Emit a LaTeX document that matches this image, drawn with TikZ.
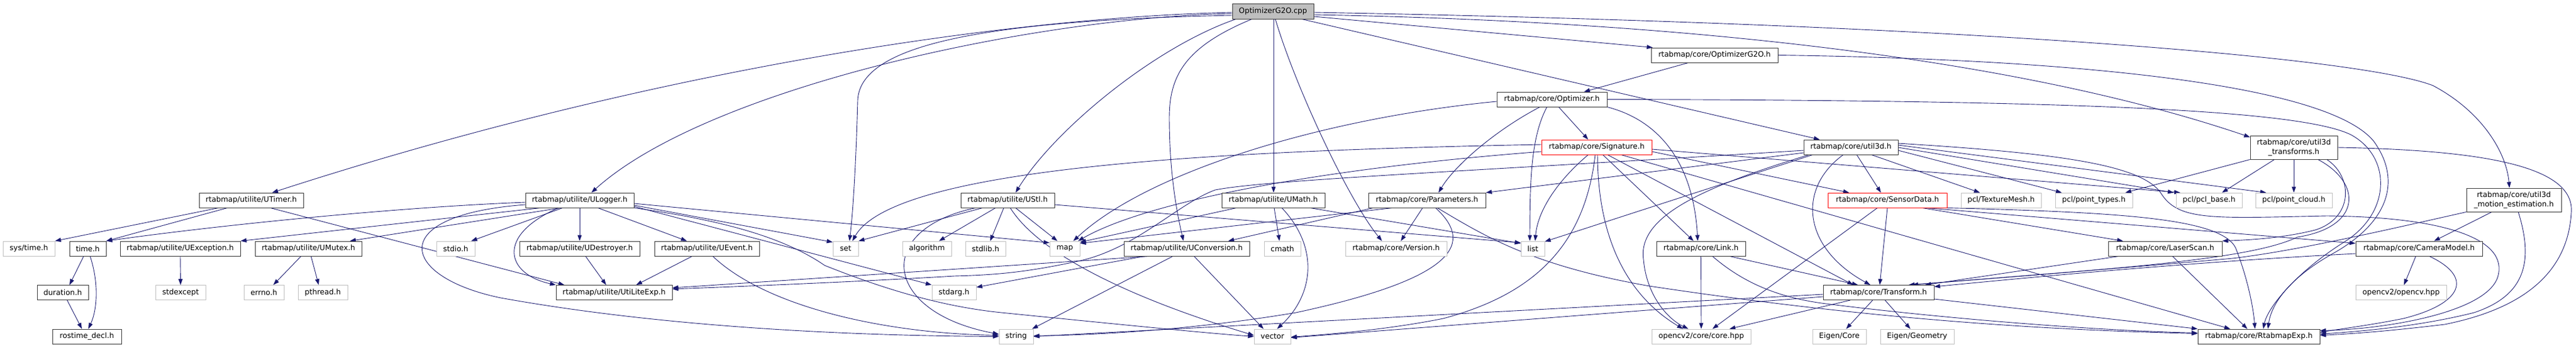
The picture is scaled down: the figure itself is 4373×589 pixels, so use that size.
\documentclass[tikz,border=0pt]{standalone}
\usepackage{fontspec}
\newfontfamily\dv{DejaVu Sans}
\usetikzlibrary{arrows.meta}
\definecolor{edgec}{HTML}{191970}
\definecolor{gryb}{HTML}{BFBFBF}
\pgfdeclarelayer{bg}
\pgfsetlayers{bg,main}
\begin{document}
\begin{tikzpicture}[x=1pt,y=-1pt,
  every node/.style={font=\dv\fontsize{12.6}{16}\selectfont, inner sep=0pt, minimum height=25pt, line width=0.9pt, fill=white, text=black},
  doc/.style={draw=black!80},
  ext/.style={draw=gryb},
  trunc/.style={draw=red},
  two/.style={minimum height=40pt, align=center},
  e/.style={draw=edgec, line width=0.9pt, -{Triangle[length=10pt,width=7pt]}}]
\useasboundingbox (0,0) rectangle (4373,589);
% ---------- nodes ----------
\node[doc,fill=gryb,minimum width=138pt,minimum height=26pt] (root) at (2161,19) {OptimizerG2O.cpp};
\node[doc,minimum width=215pt] (og2oh) at (2910.5,93.5) {rtabmap/core/OptimizerG2O.h};
\node[doc,minimum width=187pt] (opt) at (2634.5,168.5) {rtabmap/core/Optimizer.h};
\node[trunc,minimum width=187pt] (sig) at (2710.5,249.5) {rtabmap/core/Signature.h};
\node[doc,minimum width=160pt] (u3d) at (3142,249.5) {rtabmap/core/util3d.h};
\node[doc,two,minimum width=148pt] (u3dt) at (3894,250) {rtabmap/core/util3d\\\_transforms.h};
% row 4
\node[doc,minimum width=177pt] (utimer) at (426.5,339.5) {rtabmap/utilite/UTimer.h};
\node[doc,minimum width=184pt] (ulog) at (984,339.5) {rtabmap/utilite/ULogger.h};
\node[doc,minimum width=159pt] (ustl) at (1710.5,339.5) {rtabmap/utilite/UStl.h};
\node[doc,minimum width=175pt] (umath) at (2161.5,339.5) {rtabmap/utilite/UMath.h};
\node[doc,minimum width=199pt] (param) at (2422.5,339.5) {rtabmap/core/Parameters.h};
\node[trunc,minimum width=202pt] (sdata) at (3204,339.5) {rtabmap/core/SensorData.h};
\node[ext,minimum width=136pt] (ptex) at (3397,339.5) {pcl/TextureMesh.h};
\node[ext,minimum width=131pt] (ptypes) at (3554.5,339.5) {pcl/point\_types.h};
\node[ext,minimum width=112pt] (pbase) at (3750,339.5) {pcl/pcl\_base.h};
\node[ext,minimum width=130pt] (pcloud) at (3894,339.5) {pcl/point\_cloud.h};
\node[doc,two,minimum width=161pt] (umot) at (4267.5,339) {rtabmap/core/util3d\\\_motion\_estimation.h};
% row 5
\node[ext,minimum width=88pt] (systime) at (49,421.5) {sys/time.h};
\node[doc,minimum width=62pt] (timeh) at (149,421.5) {time.h};
\node[doc,minimum width=204pt] (uexc) at (306,421.5) {rtabmap/utilite/UException.h};
\node[doc,minimum width=181pt] (umutex) at (523.5,421.5) {rtabmap/utilite/UMutex.h};
\node[ext,minimum width=65pt] (stdio) at (773.5,421.5) {stdio.h};
\node[doc,minimum width=204pt] (udest) at (984,421.5) {rtabmap/utilite/UDestroyer.h};
\node[doc,minimum width=178pt] (uevent) at (1200,421.5) {rtabmap/utilite/UEvent.h};
\node[ext,minimum width=43pt] (set) at (1435.5,421.5) {set};
\node[ext,minimum width=83pt] (algo) at (1573.5,421.5) {algorithm};
\node[ext,minimum width=68pt] (stdlib) at (1673,421.5) {stdlib.h};
\node[ext,minimum width=51pt] (map) at (1807.5,421.5) {map};
\node[doc,minimum width=213pt] (uconv) at (2014.5,421.5) {rtabmap/utilite/UConversion.h};
\node[ext,minimum width=62pt] (cmath) at (2177,421.5) {cmath};
\node[ext,minimum width=172pt] (version) at (2370,421.5) {rtabmap/core/Version.h};
\node[ext,minimum width=40pt] (list) at (2602,421.5) {list};
\node[doc,minimum width=151pt] (link) at (2887.5,421.5) {rtabmap/core/Link.h};
\node[doc,minimum width=193pt] (lscan) at (3675.5,421.5) {rtabmap/core/LaserScan.h};
\node[doc,minimum width=215pt] (cam) at (4106.5,421.5) {rtabmap/core/CameraModel.h};
% row 6
\node[doc,minimum width=87pt] (duration) at (106.5,496) {duration.h};
\node[ext,minimum width=85pt] (stdexcept) at (306.5,496) {stdexcept};
\node[ext,minimum width=68pt] (errno) at (448,496) {errno.h};
\node[ext,minimum width=84pt] (pthread) at (548,496) {pthread.h};
\node[doc,minimum width=197pt] (utilexp) at (1042.5,496) {rtabmap/utilite/UtiLiteExp.h};
\node[ext,minimum width=75pt] (stdarg) at (1619.5,496) {stdarg.h};
\node[doc,minimum width=188pt] (transform) at (3189,496) {rtabmap/core/Transform.h};
\node[ext,minimum width=154pt] (opencvhpp) at (4076,496) {opencv2/opencv.hpp};
% row 7
\node[doc,minimum width=117pt] (rostime) at (147.5,570.5) {rostime\_decl.h};
\node[ext,minimum width=58pt] (string) at (1725,570.5) {string};
\node[ext,minimum width=62pt] (vector) at (2160,570.5) {vector};
\node[ext,minimum width=168pt] (cvcore) at (2888,570.5) {opencv2/core/core.hpp};
\node[ext,minimum width=91pt] (eigcore) at (3122.5,570.5) {Eigen/Core};
\node[ext,minimum width=125pt] (eigeo) at (3254.5,570.5) {Eigen/Geometry};
\node[doc,minimum width=207pt] (rexp) at (3834.5,570.5) {rtabmap/core/RtabmapExp.h};
% ---------- edges ----------
\begin{pgfonlayer}{bg}
% root
\draw[e] (root.west |- 0,21) .. controls (1700,30) and (1100,120) .. (utimer.north -| 462,0);
\draw[e] (root.west |- 0,23) .. controls (1750,30) and (1200,150) .. (ulog.north -| 1004,0);
\draw[e] (root.west |- 0,26) .. controls (1650,35) and (1460,80) .. (1456,170) .. controls (1453,280) and (1448,360) .. (set.north -| 1442,0);
\draw[e] (root.south -| 2098,0) .. controls (1960,80) and (1790,220) .. (ustl.north -| 1724,0);
\draw[e] (root.south -| 2125,0) .. controls (2010,80) and (1985,130) .. (1985,200) .. controls (1985,300) and (2000,370) .. (uconv.north -| 2009,0);
\draw[e] (root.south -| 2162,0) -- (umath.north -| 2162,0);
\draw[e] (root.south -| 2165,0) .. controls (2200,150) and (2290,340) .. (version.north -| 2346,0);
\draw[e] (root.east |- 0,28) -- ([xshift=3pt]og2oh.north west);
\draw[e] (root.south -| 2210,0) -- (u3d.north -| 3089,0);
\draw[e] (root.east |- 0,25) .. controls (2800,35) and (3400,90) .. ([yshift=-3pt]u3dt.north west);
\draw[e] (root.east |- 0,21) .. controls (3300,40) and (4000,95) .. (4130,145) .. controls (4215,190) and (4255,260) .. (umot.north -| 4260,0);
% UTimer
\draw[e] (utimer.south -| 371,0) -- (systime.north east);
\draw[e] (utimer.south -| 386,0) -- (timeh.north east);
\draw[e] (utimer.south -| 459,0) -- (utilexp.north -| 958,0);
% ULogger
\draw[e] (ulog.west |- 0,343) .. controls (700,350) and (400,378) .. (timeh.north east);
\draw[e] (ulog.south -| 918,0) -- (uexc.north east);
\draw[e] (ulog.south -| 952,0) -- (umutex.north -| 594,0);
\draw[e] (ulog.south -| 955,0) -- (stdio.north -| 800,0);
\draw[e] (ulog.south) -- (udest.north);
\draw[e] (ulog.south -| 948,0) .. controls (840,400) and (860,465) .. (utilexp.north west);
\draw[e] (ulog.west |- 0,347) .. controls (650,365) and (680,470) .. (850,505) .. controls (1100,550) and (1400,569) .. (string.west);
\draw[e] (ulog.south -| 1015,0) -- (uevent.north -| 1166,0);
\draw[e] (ulog.east |- 0,348) -- ([yshift=-2pt]set.north west);
\draw[e] (ulog.east |- 0,350) -- (stdarg.north west);
\draw[e] (ulog.east |- 0,345) -- ([yshift=-3pt]map.north west);
\draw[e] (ulog.south east) .. controls (1200,370) and (1320,395) .. (1400,450) .. controls (1500,490) and (1600,520) .. (1700,530) .. controls (1900,550) and (2050,565) .. (vector.west);
% UEvent, UDestroyer, UMutex, UException, time, duration
\draw[e] (uevent.south -| 1175,0) -- (utilexp.north -| 1080,0);
\draw[e] (uevent.south -| 1210,0) .. controls (1300,520) and (1500,565) .. ([yshift=2pt]string.west);
\draw[e] (udest.south -| 994,0) -- (utilexp.north -| 1029,0);
\draw[e] (umutex.south -| 511,0) -- (errno.north -| 464,0);
\draw[e] (umutex.south -| 528,0) -- (pthread.north -| 541,0);
\draw[e] (uexc.south) -- (stdexcept.north);
\draw[e] (timeh.south -| 142,0) -- (duration.north -| 118,0);
\draw[e] (timeh.south -| 153,0) .. controls (168,480) and (165,525) .. (rostime.north -| 150,0);
\draw[e] (duration.south -| 114,0) -- (rostime.north -| 139,0);
% UStl
\draw[e] (ustl.south -| 1668,0) -- (set.north east);
\draw[e] (ustl.south -| 1690,0) -- (algo.north -| 1594,0);
\draw[e] (ustl.south -| 1704,0) -- (stdlib.north -| 1681,0);
\draw[e] (ustl.south -| 1724,0) -- (map.north -| 1795,0);
\draw[e] (ustl.south -| 1715,0) .. controls (1770,440) and (1950,515) .. ([yshift=2pt]vector.west);
\draw[e] (ustl.south -| 1656,0) .. controls (1480,390) and (1500,530) .. ([yshift=4pt]string.west);
\draw[e] (ustl.east |- 0,347) -- ([yshift=-3pt]list.north west);
% UMath
\draw[e] (umath.south -| 2099,0) -- ([yshift=-2pt]map.north east);
\draw[e] (umath.south -| 2163,0) -- (cmath.north -| 2172,0);
\draw[e] (umath.south -| 2224,0) -- ([yshift=-4pt]list.north west);
\draw[e] (umath.south -| 2176,0) .. controls (2240,420) and (2230,500) .. (vector.north -| 2168,0);
% UConversion
\draw[e] (uconv.south -| 1952,0) -- ([yshift=8pt]utilexp.east);
\draw[e] (uconv.south -| 1991,0) -- (string.north -| 1752,0);
\draw[e] (uconv.south -| 2027,0) -- (vector.north -| 2145,0);
\draw[e] (uconv.south -| 1942,0) -- ([yshift=9pt]stdarg.east);
% Parameters
\draw[e] (param.south -| 2331,0) -- (uconv.north -| 2085,0);
\draw[e] (param.south -| 2364,0) -- ([yshift=-4pt]map.north east);
\draw[e] (param.south -| 2415,0) -- (version.north -| 2378,0);
\draw[e] (param.south -| 2437,0) .. controls (2500,410) and (2480,470) .. (2200,530) .. controls (2050,555) and (1900,567) .. ([yshift=1pt]string.east);
\draw[e] (param.south -| 2440,0) .. controls (2520,400) and (2600,450) .. (2800,485) .. controls (3200,545) and (3500,560) .. ([yshift=5pt]rexp.west);
% Optimizer
\draw[e] (opt.west |- 0,172) .. controls (2250,200) and (1950,290) .. (map.north -| 1822,0);
\draw[e] (opt.south -| 2626,0) .. controls (2600,230) and (2597,300) .. (list.north -| 2597,0);
\draw[e] (opt.south -| 2646,0) -- (sig.north -| 2696,0);
\draw[e] (opt.south -| 2614,0) .. controls (2540,220) and (2470,280) .. (param.north -| 2442,0);
\draw[e] (opt.south east) .. controls (2820,205) and (2875,280) .. (link.north -| 2882,0);
\draw[e] (opt.east) .. controls (3500,170) and (3900,185) .. (3990,228) .. controls (4060,265) and (4060,360) .. (3980,410) .. controls (3900,460) and (3850,520) .. (rexp.north -| 3842,0);
% OptimizerG2O.h
\draw[e] (og2oh.south -| 2866,0) -- (opt.north -| 2689,0);
\draw[e] (og2oh.east) .. controls (3500,100) and (3950,140) .. (4030,240) .. controls (4080,310) and (4050,380) .. (3960,430) .. controls (3880,475) and (3855,520) .. (rexp.north -| 3850,0);
% Signature
\draw[e] (sig.west |- 0,245) .. controls (2100,255) and (1520,280) .. (set.north -| 1447,0);
\draw[e] (sig.west |- 0,257) .. controls (2250,285) and (1950,340) .. (map.north -| 1830,0);
\draw[e] (sig.south -| 2696,0) .. controls (2640,310) and (2610,360) .. (list.north -| 2606,0);
\draw[e] (sig.south -| 2708,0) .. controls (2690,420) and (2600,500) .. (2450,540) .. controls (2350,560) and (2250,567) .. ([yshift=-1pt]vector.east);
\draw[e] (sig.south -| 2712,0) .. controls (2712,400) and (2760,500) .. (cvcore.north -| 2857,0);
\draw[e] (sig.south -| 2721,0) -- (link.north -| 2875,0);
\draw[e] (sig.south -| 2729,0) -- (transform.north -| 3146,0);
\draw[e] (sig.south -| 2752,0) -- (rexp.north -| 3786,0);
\draw[e] (sig.east |- 0,257) -- (sdata.north -| 3139,0);
\draw[e] (sig.east |- 0,253) -- (pbase.north -| 3701,0);
% util3d
\draw[e] (u3d.west |- 0,255) .. controls (2500,290) and (2150,305) .. (2063,322) .. controls (2000,345) and (1930,420) .. (1834,442) .. controls (1750,460) and (1700,466) .. (1620,468) .. controls (1450,478) and (1250,486) .. ([yshift=6pt]utilexp.east);
\draw[e] (u3d.west |- 0,259) -- (param.north east);
\draw[e] (u3d.south -| 3077,0) -- ([yshift=-1pt]list.north east);
\draw[e] (u3d.south -| 3071,0) .. controls (2880,320) and (2780,370) .. (2790,440) .. controls (2795,500) and (2830,540) .. (cvcore.north -| 2866,0);
\draw[e] (u3d.south -| 3129,0) .. controls (3050,320) and (3060,420) .. (transform.north -| 3175,0);
\draw[e] (u3d.south -| 3152,0) -- (sdata.north -| 3193,0);
\draw[e] (u3d.south -| 3177,0) -- (ptex.north -| 3361,0);
\draw[e] (u3d.east |- 0,255) -- (ptypes.north -| 3500,0);
\draw[e] (u3d.east |- 0,250) -- (pbase.north -| 3690,0);
\draw[e] (u3d.east |- 0,246) -- (pcloud.north -| 3847,0);
\draw[e] (u3d.east |- 0,243) .. controls (3500,260) and (3640,280) .. (3670,330) .. controls (3700,375) and (3760,370) .. (3950,366) .. controls (4150,368) and (4260,405) .. (4240,470) .. controls (4220,530) and (4050,558) .. ([yshift=10pt]rexp.east);
% SensorData
\draw[e] (sdata.south -| 3204,0) -- (transform.north -| 3191,0);
\draw[e] (sdata.south -| 3187,0) -- (cvcore.north -| 2907,0);
\draw[e] (sdata.south -| 3263,0) -- (lscan.north -| 3604,0);
\draw[e] (sdata.south -| 3270,0) -- ([yshift=-4pt]cam.north west);
\draw[e] (sdata.south east) .. controls (3600,360) and (3770,370) .. (3795,420) .. controls (3815,470) and (3825,520) .. (rexp.north -| 3828,0);
% LaserScan
\draw[e] (lscan.south -| 3597,0) -- (transform.north -| 3268,0);
\draw[e] (lscan.south -| 3688,0) -- (rexp.north -| 3815,0);
% CameraModel
\draw[e] (cam.south -| 4101,0) -- (opencvhpp.north -| 4081,0);
\draw[e] (cam.south -| 4124,0) .. controls (4200,470) and (4180,515) .. (4080,540) .. controls (4020,552) and (3970,558) .. ([yshift=7pt]rexp.east);
\draw[e] (cam.west |- 0,430) .. controls (3700,445) and (3400,475) .. ([yshift=10pt]transform.east);
% motion estimation
\draw[e] (umot.south -| 4230,0) -- (cam.north -| 4132,0);
\draw[e] (umot.south west) .. controls (4050,390) and (3900,425) .. (3790,438) .. controls (3600,455) and (3400,470) .. (transform.north -| 3246,0);
\draw[e] (umot.south -| 4275,0) .. controls (4300,440) and (4290,500) .. (4200,530) .. controls (4100,555) and (4000,562) .. ([yshift=4pt]rexp.east);
% util3d_transforms
\draw[e] (u3dt.south west) -- (ptypes.north -| 3608,0);
\draw[e] (u3dt.south -| 3861,0) -- (pbase.north -| 3772,0);
\draw[e] (u3dt.south -| 3894,0) -- (pcloud.north);
\draw[e] (u3dt.south -| 3950,0) .. controls (3995,300) and (3995,370) .. (3930,390) .. controls (3870,405) and (3810,407) .. (lscan.north east);
\draw[e] (u3dt.south -| 3935,0) .. controls (4010,310) and (4010,385) .. (3900,402) .. controls (3820,440) and (3600,455) .. (transform.north -| 3240,0);
\draw[e] (u3dt.east) .. controls (4250,255) and (4370,290) .. (4365,360) .. controls (4360,450) and (4300,520) .. (4150,550) .. controls (4050,562) and (3990,566) .. ([yshift=2pt]rexp.east);
% Link
\draw[e] (link.south) -- (cvcore.north);
\draw[e] (link.south -| 2936,0) -- (transform.north -| 3154,0);
\draw[e] (link.south -| 2907,0) .. controls (2960,480) and (3020,505) .. (3100,515) .. controls (3300,540) and (3550,560) .. ([yshift=6pt]rexp.west);
% Transform
\draw[e] (transform.south -| 3179,0) -- (eigcore.north -| 3134,0);
\draw[e] (transform.south -| 3200,0) -- (eigeo.north -| 3243,0);
\draw[e] (transform.south -| 3141,0) -- (cvcore.north -| 2936,0);
\draw[e] (transform.east |- 0,507) -- (rexp.north west);
\draw[e] (transform.west |- 0,499) -- (string.east);
\draw[e] (transform.west |- 0,503) -- ([yshift=-2pt]vector.east);
\end{pgfonlayer}
\end{tikzpicture}
\end{document}
